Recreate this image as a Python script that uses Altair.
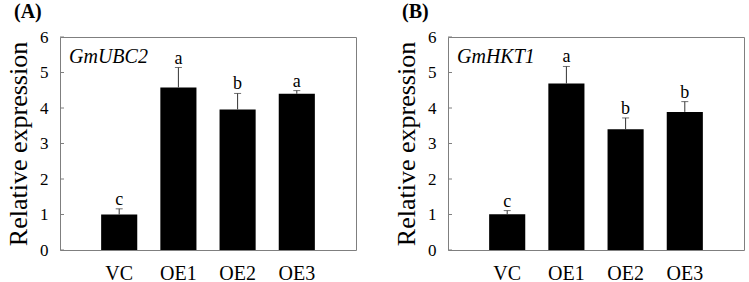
import altair as alt
import pandas as pd

categories = ["VC", "OE1", "OE2", "OE3"]
a_values = [1.00, 4.58, 3.96, 4.40]
a_errors = [0.16, 0.56, 0.45, 0.09]
a_letters = ["c", "a", "b", "a"]
b_values = [1.01, 4.69, 3.40, 3.89]
b_errors = [0.10, 0.48, 0.32, 0.29]
b_letters = ["c", "a", "b", "b"]
y_ticks = [0, 1, 2, 3, 4, 5, 6]

FONT = "Liberation Serif"


def panel(label, gene, values, errors, letters):
    df = pd.DataFrame({
        "cat": categories,
        "value": values,
        "upper": [v + e for v, e in zip(values, errors)],
        "letter": letters,
    })
    xscale = alt.Scale(paddingInner=0.39, paddingOuter=0.695)
    xaxis = alt.Axis(title=None, labelAngle=0, ticks=False, domain=False,
                     labelFontSize=20, labelFont=FONT, labelColor="black",
                     labelBaseline="alphabetic", labelPadding=29)
    yscale = alt.Scale(domain=[0, 6], nice=False)
    yaxis = alt.Axis(title="Relative expression", values=y_ticks, ticks=False,
                     domain=False, grid=False, labelFontSize=17, labelFont=FONT,
                     labelColor="black", labelPadding=12, titleFontSize=26,
                     titleFont=FONT, titleFontWeight="normal", titleColor="black",
                     titlePadding=8)
    x = alt.X("cat:N", sort=categories, scale=xscale, axis=xaxis)

    def Y(field):
        return alt.Y(field, scale=yscale, axis=yaxis)

    base = alt.Chart(df)
    bars = base.mark_bar(color="black").encode(x=x, y=Y("value:Q"))
    err = base.mark_rule(color="#333333", strokeWidth=1).encode(
        x=x, y=Y("value:Q"), y2="upper:Q")
    cap = base.mark_tick(color="#333333", thickness=1, size=7, orient="horizontal").encode(
        x=x, y=Y("upper:Q"))
    txt = base.mark_text(baseline="alphabetic", dy=-4, fontSize=18, font=FONT,
                         color="black").encode(
        x=x, y=Y("upper:Q"), text="letter:N")
    tick_df = pd.DataFrame({"t": y_ticks})
    tks = alt.Chart(tick_df).mark_rule(color="#7f7f7f", strokeWidth=1).encode(
        y=Y("t:Q"), x=alt.value(0), x2=alt.value(4))
    gene_df = pd.DataFrame({"g": [gene]})
    gene_txt = alt.Chart(gene_df).mark_text(
        align="left", baseline="alphabetic", fontSize=20, font=FONT,
        fontStyle="italic", color="black").encode(
        text="g:N", x=alt.value(9), y=alt.value(26))
    return alt.layer(bars, err, cap, txt, tks, gene_txt).properties(
        width=296, height=213,
        title=alt.TitleParams(label, anchor="start", frame="group", dx=-46, offset=-10,
                              fontSize=20, fontWeight="bold", font=FONT,
                              color="black", baseline="alphabetic"))


pa = panel("(A)", "GmUBC2", a_values, a_errors, a_letters)
pb = panel("(B)", "GmHKT1", b_values, b_errors, b_letters)

chart = alt.hconcat(pa, pb, spacing=36).properties(
    padding={"left": 5, "top": 1, "right": 0, "bottom": 0}
).configure(font=FONT).configure_axis(
    labelFont=FONT, titleFont=FONT
).configure_view(stroke="#7f7f7f", strokeWidth=1)

chart.save("out.html", embed_options={"renderer": "svg", "actions": False})
